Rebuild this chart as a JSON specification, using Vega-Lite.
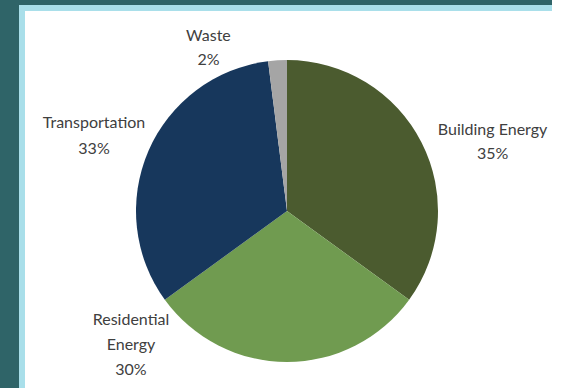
{
  "$schema": "https://vega.github.io/schema/vega-lite/v6.json",
  "width": 530,
  "height": 406,
  "autosize": {"type": "none"},
  "padding": {"left": 22, "top": 8, "right": 0, "bottom": 0},
  "background": "#2f6468",
  "config": {
    "view": {"stroke": null},
    "text": {"font": "Lato", "fontSize": 16, "fill": "#404040"}
  },
  "data": {
    "values": [
      {"category": "Building Energy", "share": 35, "rank": 1, "label": "Building Energy\n35%"},
      {"category": "Residential Energy", "share": 30, "rank": 2, "label": "Residential\nEnergy\n30%"},
      {"category": "Transportation", "share": 33, "rank": 3, "label": "Transportation\n33%"},
      {"category": "Waste", "share": 2, "rank": 4, "label": "Waste\n2%"}
    ]
  },
  "layer": [
    {
      "data": {"values": [{"panel": "background"}]},
      "mark": {"type": "rect", "fill": "#ffffff", "stroke": "#a9dfea", "strokeWidth": 6, "strokeCap": "square", "strokeDash": [530, 936, 406]},
      "encoding": {}
    },
    {
      "mark": {"type": "arc", "outerRadius": 151},
      "encoding": {
        "theta": {"field": "share", "type": "quantitative", "stack": true},
        "order": {"field": "rank", "type": "quantitative"},
        "color": {
          "field": "category",
          "type": "nominal",
          "scale": {
            "domain": ["Building Energy", "Residential Energy", "Transportation", "Waste"],
            "range": ["#4b5b2f", "#709b50", "#17375c", "#a5a5a5"]
          },
          "legend": null
        }
      }
    },
    {
      "mark": {"type": "text", "radius": 215, "dx": 14, "dy": 17, "lineBreak": "\n", "lineHeight": 24, "align": "center", "baseline": "middle"},
      "encoding": {
        "theta": {"field": "share", "type": "quantitative", "stack": true},
        "order": {"field": "rank", "type": "quantitative"},
        "detail": {"field": "category", "type": "nominal"},
        "text": {"condition": {"test": "datum.category === 'Building Energy'", "field": "label", "type": "nominal"}, "value": ""}
      }
    },
    {
      "mark": {"type": "text", "radius": 134, "dx": -156, "dy": -25, "lineBreak": "\n", "lineHeight": 25, "align": "center", "baseline": "middle"},
      "encoding": {
        "theta": {"field": "share", "type": "quantitative", "stack": true},
        "order": {"field": "rank", "type": "quantitative"},
        "detail": {"field": "category", "type": "nominal"},
        "text": {"condition": {"test": "datum.category === 'Residential Energy'", "field": "label", "type": "nominal"}, "value": ""}
      }
    },
    {
      "mark": {"type": "text", "radius": 207, "dx": -3, "dy": -6, "lineBreak": "\n", "lineHeight": 26, "align": "center", "baseline": "middle"},
      "encoding": {
        "theta": {"field": "share", "type": "quantitative", "stack": true},
        "order": {"field": "rank", "type": "quantitative"},
        "detail": {"field": "category", "type": "nominal"},
        "text": {"condition": {"test": "datum.category === 'Transportation'", "field": "label", "type": "nominal"}, "value": ""}
      }
    },
    {
      "mark": {"type": "text", "radius": 168, "dx": -68, "dy": -7, "lineBreak": "\n", "lineHeight": 24, "align": "center", "baseline": "middle"},
      "encoding": {
        "theta": {"field": "share", "type": "quantitative", "stack": true},
        "order": {"field": "rank", "type": "quantitative"},
        "detail": {"field": "category", "type": "nominal"},
        "text": {"condition": {"test": "datum.category === 'Waste'", "field": "label", "type": "nominal"}, "value": ""}
      }
    }
  ]
}
